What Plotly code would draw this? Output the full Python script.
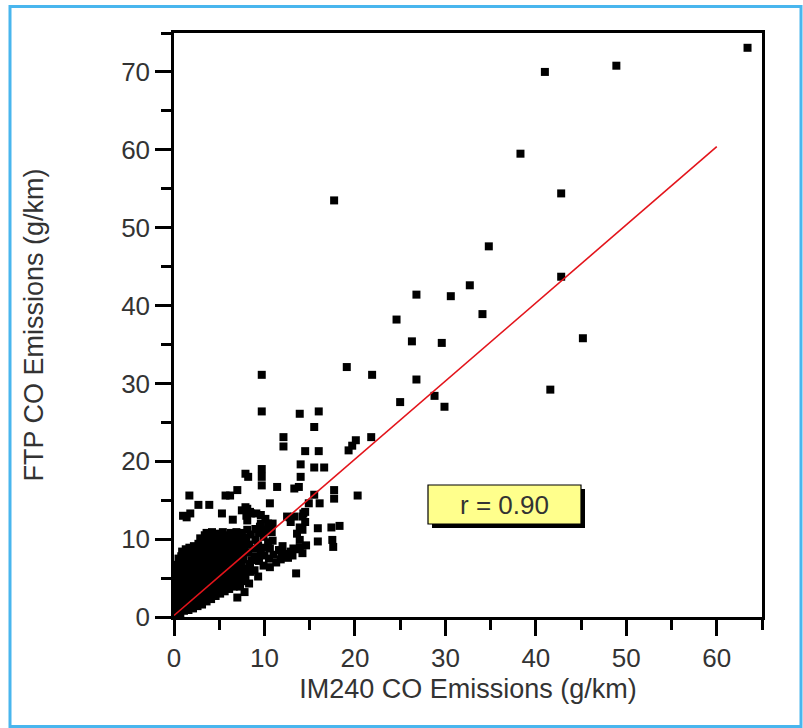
import plotly.graph_objects as go

# ---------------- data (IM240 vs FTP CO emissions, g/km) ----------------
# dense core of the cloud (0-8 g/km)
core_points = [
    (0.2, 0.3), (0.3, 1.1), (0.2, 1.9), (0.3, 2.8), (0.2, 3.5), (0.3, 4.4), (0.2, 5.1), (0.3, 5.9), (0.4, 6.7), (0.5, 7.5),
    (0.7, 0.5), (0.6, 1.3), (0.8, 2.0), (0.6, 2.9), (0.7, 3.7), (0.8, 4.5), (0.6, 5.3), (0.7, 6.1), (0.9, 6.9), (0.8, 7.8), (0.9, 8.4),
    (1.1, 0.8), (1.2, 1.5), (1.0, 2.3), (1.2, 3.1), (1.1, 3.9), (1.0, 4.8), (1.2, 5.5), (1.1, 6.3), (1.3, 7.1), (1.2, 8.0), (1.3, 8.7),
    (1.6, 0.9), (1.7, 1.6), (1.5, 2.5), (1.6, 3.3), (1.8, 4.0), (1.6, 4.9), (1.5, 5.7), (1.7, 6.4), (1.6, 7.3), (1.8, 8.1), (1.7, 8.9),
    (2.1, 1.1), (2.2, 1.9), (2.0, 2.7), (2.2, 3.5), (2.1, 4.3), (2.3, 5.1), (2.0, 5.9), (2.2, 6.7), (2.1, 7.5), (2.3, 8.3), (2.2, 9.1),
    (2.6, 1.4), (2.7, 2.2), (2.5, 3.0), (2.7, 3.8), (2.6, 4.6), (2.8, 5.4), (2.5, 6.2), (2.7, 7.0), (2.6, 7.8), (2.8, 8.6), (2.7, 9.4), (2.9, 10.1),
    (3.1, 1.6), (3.2, 2.4), (3.0, 3.2), (3.2, 4.0), (3.1, 4.8), (3.3, 5.6), (3.0, 6.4), (3.2, 7.2), (3.1, 8.0), (3.3, 8.8), (3.2, 9.6), (3.4, 10.5),
    (3.6, 2.0), (3.7, 2.8), (3.5, 3.6), (3.7, 4.4), (3.6, 5.2), (3.8, 6.0), (3.5, 6.8), (3.7, 7.6), (3.6, 8.4), (3.8, 9.2), (3.9, 10.0), (3.6, 10.8),
    (4.1, 2.3), (4.2, 3.1), (4.0, 3.9), (4.2, 4.7), (4.1, 5.5), (4.3, 6.3), (4.0, 7.1), (4.2, 7.9), (4.1, 8.7), (4.3, 9.5), (4.4, 10.3), (4.2, 10.9),
    (4.6, 2.7), (4.7, 3.5), (4.5, 4.3), (4.7, 5.1), (4.6, 5.9), (4.8, 6.7), (4.5, 7.5), (4.7, 8.3), (4.6, 9.1), (4.8, 9.9), (4.9, 10.7),
    (5.1, 3.0), (5.2, 3.8), (5.0, 4.6), (5.2, 5.4), (5.1, 6.2), (5.3, 7.0), (5.0, 7.8), (5.2, 8.6), (5.1, 9.4), (5.3, 10.2), (5.4, 10.9),
    (5.6, 3.3), (5.7, 4.1), (5.5, 4.9), (5.7, 5.7), (5.6, 6.5), (5.8, 7.3), (5.5, 8.1), (5.7, 8.9), (5.6, 9.7), (5.8, 10.5),
    (6.1, 3.6), (6.2, 4.4), (6.0, 5.2), (6.2, 6.0), (6.1, 6.8), (6.3, 7.6), (6.0, 8.4), (6.2, 9.2), (6.1, 10.0), (6.3, 10.8),
    (6.6, 3.9), (6.7, 4.7), (6.5, 5.5), (6.7, 6.3), (6.6, 7.1), (6.8, 7.9), (6.5, 8.7), (6.7, 9.5), (6.6, 10.3), (6.9, 10.9),
    (7.1, 4.4), (7.2, 5.2), (7.0, 6.0), (7.2, 6.8), (7.1, 7.6), (7.3, 8.4), (7.0, 9.2), (7.2, 10.0), (7.4, 10.7),
    (7.6, 5.0), (7.7, 5.8), (7.5, 6.6), (7.7, 7.4), (7.6, 8.2), (7.8, 9.0),
    (0.4, 0.8), (0.9, 1.7), (1.4, 2.0), (1.9, 3.0), (2.4, 4.1), (2.9, 4.4), (3.4, 5.0), (3.9, 6.6), (4.4, 8.0),
    (4.9, 8.9), (5.4, 9.3), (5.9, 9.6), (6.4, 9.9), (6.9, 8.3), (3.4, 7.9), (2.4, 8.8), (1.4, 7.6), (0.5, 6.3),
]

# looser band around the core (7-22 g/km)
mid_points = [
    (7.3, 3.9), (7.8, 3.2), (7.0, 2.5), (7.4, 5.6), (7.9, 6.2), (8.4, 5.8), (8.9, 6.0), (9.3, 5.2), (7.8, 4.6), (8.3, 4.3), (7.9, 5.1),
    (8.9, 7.8), (9.4, 7.2), (10.0, 7.9), (10.5, 7.5), (11.0, 8.0), (11.3, 7.0), (9.9, 6.6), (10.6, 6.4), (9.2, 7.7),
    (7.5, 10.8), (8.0, 10.2), (8.5, 10.6), (9.0, 9.9), (9.4, 10.8), (9.9, 10.3), (10.4, 9.6), (10.8, 10.9), (8.3, 9.3),
    (8.8, 8.8), (9.3, 9.2), (9.8, 8.9), (10.6, 8.8), (7.7, 9.5), (10.2, 11.1), (8.2, 8.3), (8.6, 7.3),
    (8.4, 6.8), (9.6, 8.3), (10.9, 9.8), (8.1, 11.2), (9.0, 11.3),
    (9.5, 11.6), (10.1, 12.6), (10.4, 12.0), (10.8, 11.8), (10.0, 11.2),
    (11.8, 7.4), (12.3, 8.1), (12.9, 8.4), (13.4, 8.7), (13.9, 8.9), (12.0, 9.1), (12.6, 7.6), (13.1, 7.9),
    (11.6, 8.6), (14.2, 8.2), (14.6, 9.2), (11.9, 7.9), (13.2, 8.8),
    (13.6, 10.7), (14.2, 11.2), (13.9, 9.9), (13.9, 11.5), (12.8, 12.8), (12.5, 12.9), (12.9, 12.2),
    (14.2, 12.9), (14.5, 13.5), (14.5, 12.2), (13.5, 5.6),
    (15.9, 11.4), (15.9, 9.7), (17.4, 11.5), (17.5, 9.9), (17.6, 9.0), (18.3, 11.7),
    (1.0, 13.0), (1.4, 12.8), (1.8, 13.3), (1.7, 15.6), (2.7, 14.4), (3.9, 14.4),
    (5.7, 15.6), (6.2, 15.6), (7.0, 16.3), (5.3, 13.3), (6.5, 12.5), (7.5, 13.7), (8.0, 13.0),
    (8.1, 13.9), (8.5, 13.3), (9.6, 13.1), (10.6, 14.6), (9.6, 12.0), (10.9, 12.0), (8.1, 12.4), (7.9, 14.1),
]

# scattered high-emission vehicles
outer_points = [
    (63.4, 73.1), (48.9, 70.8), (41.0, 70.0), (38.3, 59.5), (42.8, 54.4), (17.7, 53.5), (34.8, 47.6),
    (42.8, 43.7), (32.7, 42.6), (26.8, 41.4), (30.6, 41.2), (34.1, 38.9), (24.6, 38.2), (26.3, 35.4),
    (29.6, 35.2), (45.2, 35.8), (41.6, 29.2), (29.9, 27.0), (28.8, 28.4), (25.0, 27.6), (26.8, 30.5),
    (21.9, 31.1), (19.1, 32.1), (9.7, 31.1), (9.7, 26.4), (13.9, 26.1), (16.0, 26.4), (15.5, 24.4),
    (12.1, 23.1), (12.1, 21.9), (21.8, 23.1), (20.1, 22.7), (19.3, 21.4), (19.7, 22.0), (14.5, 21.3),
    (16.0, 21.3), (14.0, 19.6), (15.5, 19.2), (16.6, 19.2), (9.7, 19.0), (9.7, 18.0), (9.7, 16.9),
    (7.9, 18.4), (8.2, 18.0), (14.0, 18.0), (13.8, 16.7), (11.4, 16.7), (13.3, 16.5), (17.7, 16.3),
    (17.7, 15.2), (15.5, 15.7), (20.3, 15.6), (14.9, 14.6), (16.1, 14.6), (14.3, 13.3), (13.3, 12.9),
    (8.4, 13.5), (9.1, 13.3),
]

# least-squares line and correlation
fit_x = [0.0, 60.0]
fit_y = [0.2, 60.4]
r_text = "r = 0.90"

x_ticks = [0, 10, 20, 30, 40, 50, 60]
y_ticks = [0, 10, 20, 30, 40, 50, 60, 70]
x_minor = [5, 15, 25, 35, 45, 55, 65]
y_minor = [5, 15, 25, 35, 45, 55, 65, 75]

all_points = core_points + mid_points + outer_points
im240 = [p[0] for p in all_points]
ftp = [p[1] for p in all_points]

# ---------------- figure ----------------
W, H = 803, 728
L, R, T, B = 174, 41, 33, 111
PW, PH = W - L - R, H - T - B


def px_x(px):
    return (px - L) / PW


def px_y(py):
    return (H - B - py) / PH


FONT = "Liberation Sans, Arial, Helvetica, sans-serif"
TXT = "#333333"

fig = go.Figure()
fig.add_trace(go.Scatter(
    x=im240, y=ftp, mode="markers",
    marker=dict(symbol="square", size=8, color="black", line=dict(width=0)),
    showlegend=False, hoverinfo="x+y",
))
fig.add_trace(go.Scatter(
    x=fit_x, y=fit_y, mode="lines",
    line=dict(color="#e3141b", width=1.6),
    showlegend=False,
))

axis_common = dict(
    showline=True, linecolor="black", linewidth=2.5, mirror=True,
    ticks="outside", ticklen=16, tickwidth=2.5, tickcolor="black",
    showgrid=False, zeroline=False,
    tickfont=dict(family=FONT, size=26, color=TXT),
)

fig.update_xaxes(
    range=[0, 65], tickvals=x_ticks,
    minor=dict(tickvals=x_minor, ticklen=10, tickwidth=2.5, tickcolor="black", ticks="outside", showgrid=False),
    title=dict(text="IM240 CO Emissions (g/km)", font=dict(family=FONT, size=27, color=TXT), standoff=8),
    **axis_common,
)
fig.update_yaxes(
    range=[0, 75], tickvals=y_ticks,
    minor=dict(tickvals=y_minor, ticklen=10, tickwidth=2.5, tickcolor="black", ticks="outside", showgrid=False),
    title=dict(text="FTP CO Emissions (g/km)", font=dict(family=FONT, size=27, color=TXT), standoff=70),
    **axis_common,
)

# light-blue outer frame
fig.add_shape(type="rect", xref="paper", yref="paper",
              x0=px_x(10), x1=px_x(801), y0=px_y(726.5), y1=px_y(6.5),
              line=dict(color="#49b6ee", width=3), fillcolor="rgba(0,0,0,0)", layer="below")

# correlation label box with drop shadow
bx0, bx1, by0, by1 = 428, 581, 485, 524
fig.add_shape(type="rect", xref="paper", yref="paper",
              x0=px_x(bx0 + 4), x1=px_x(bx1 + 4), y0=px_y(by1 + 4), y1=px_y(by0 + 4),
              line=dict(width=0), fillcolor="black", layer="above")
fig.add_shape(type="rect", xref="paper", yref="paper",
              x0=px_x(bx0), x1=px_x(bx1), y0=px_y(by1), y1=px_y(by0),
              line=dict(color="black", width=1.2), fillcolor="#ffff8c", layer="above")
fig.add_annotation(xref="paper", yref="paper",
                   x=px_x((bx0 + bx1) / 2), y=px_y((by0 + by1) / 2),
                   text=r_text, showarrow=False,
                   font=dict(family=FONT, size=26, color=TXT),
                   xanchor="center", yanchor="middle")

fig.update_layout(
    width=W, height=H,
    margin=dict(l=L, r=R, t=T, b=B, autoexpand=False),
    paper_bgcolor="white", plot_bgcolor="white",
    font=dict(family=FONT, color=TXT),
)

fig.write_html("out.html", include_plotlyjs=True, config={"displayModeBar": False})
